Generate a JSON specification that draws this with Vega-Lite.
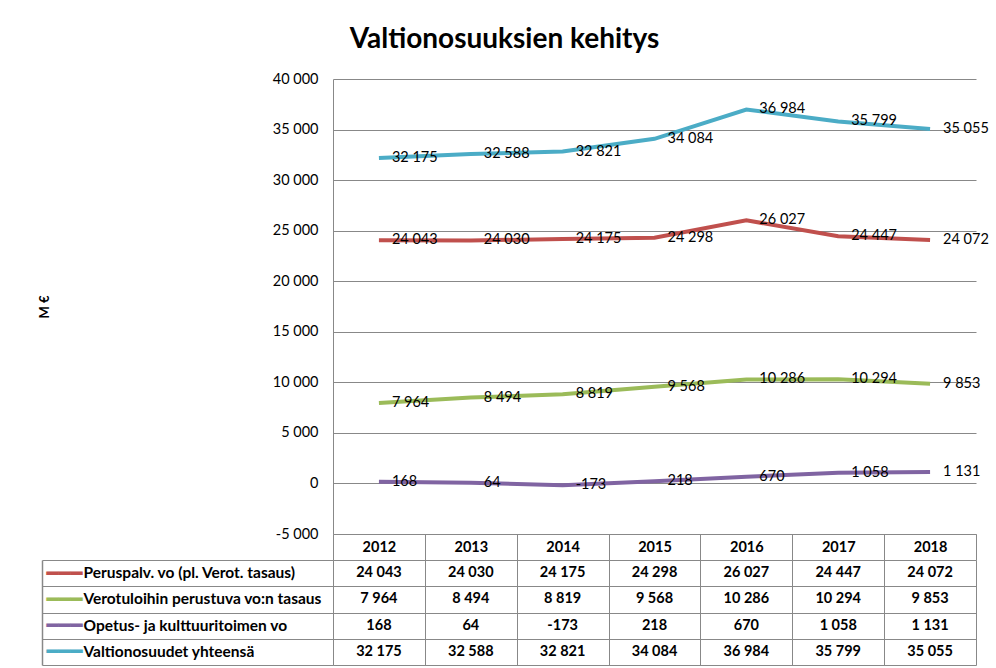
{
  "$schema": "https://vega.github.io/schema/vega-lite/v6.json",
  "padding": {"left": 38, "top": 26, "right": 5, "bottom": 3},
  "config": {
    "font": "Lato",
    "view": {"stroke": null},
    "locale": {"number": {"decimal": ",", "thousands": " ", "grouping": [3], "currency": ["", " €"], "minus": "-"}},
    "axis": {"labelFont": "Lato", "titleFont": "Lato"}
  },
  "title": {"text": "Valtionosuuksien kehitys", "fontSize": 28, "fontWeight": "bold", "font": "Lato", "color": "#000", "anchor": "middle", "frame": "group", "dx": -150, "offset": 17},
  "datasets": {
    "vo": [
      {"year": "2012", "series": "Peruspalv. vo (pl.  Verot. tasaus)", "value": 24043},
      {"year": "2013", "series": "Peruspalv. vo (pl.  Verot. tasaus)", "value": 24030},
      {"year": "2014", "series": "Peruspalv. vo (pl.  Verot. tasaus)", "value": 24175},
      {"year": "2015", "series": "Peruspalv. vo (pl.  Verot. tasaus)", "value": 24298},
      {"year": "2016", "series": "Peruspalv. vo (pl.  Verot. tasaus)", "value": 26027},
      {"year": "2017", "series": "Peruspalv. vo (pl.  Verot. tasaus)", "value": 24447},
      {"year": "2018", "series": "Peruspalv. vo (pl.  Verot. tasaus)", "value": 24072},
      {"year": "2012", "series": "Verotuloihin perustuva vo:n tasaus", "value": 7964},
      {"year": "2013", "series": "Verotuloihin perustuva vo:n tasaus", "value": 8494},
      {"year": "2014", "series": "Verotuloihin perustuva vo:n tasaus", "value": 8819},
      {"year": "2015", "series": "Verotuloihin perustuva vo:n tasaus", "value": 9568},
      {"year": "2016", "series": "Verotuloihin perustuva vo:n tasaus", "value": 10286},
      {"year": "2017", "series": "Verotuloihin perustuva vo:n tasaus", "value": 10294},
      {"year": "2018", "series": "Verotuloihin perustuva vo:n tasaus", "value": 9853},
      {"year": "2012", "series": "Opetus- ja kulttuuritoimen vo", "value": 168},
      {"year": "2013", "series": "Opetus- ja kulttuuritoimen vo", "value": 64},
      {"year": "2014", "series": "Opetus- ja kulttuuritoimen vo", "value": -173},
      {"year": "2015", "series": "Opetus- ja kulttuuritoimen vo", "value": 218},
      {"year": "2016", "series": "Opetus- ja kulttuuritoimen vo", "value": 670},
      {"year": "2017", "series": "Opetus- ja kulttuuritoimen vo", "value": 1058},
      {"year": "2018", "series": "Opetus- ja kulttuuritoimen vo", "value": 1131},
      {"year": "2012", "series": "Valtionosuudet yhteensä", "value": 32175},
      {"year": "2013", "series": "Valtionosuudet yhteensä", "value": 32588},
      {"year": "2014", "series": "Valtionosuudet yhteensä", "value": 32821},
      {"year": "2015", "series": "Valtionosuudet yhteensä", "value": 34084},
      {"year": "2016", "series": "Valtionosuudet yhteensä", "value": 36984},
      {"year": "2017", "series": "Valtionosuudet yhteensä", "value": 35799},
      {"year": "2018", "series": "Valtionosuudet yhteensä", "value": 35055}
    ]
  },
  "bounds": "flush",
  "spacing": 26,
  "vconcat": [
    {
      "width": 643,
      "height": 455,
      "data": {"name": "vo"},
      "encoding": {
        "x": {
          "field": "year", "type": "ordinal",
          "scale": {"type": "band", "paddingInner": 0, "paddingOuter": 0},
          "axis": {"orient": "bottom", "title": null, "domain": true, "domainColor": "#888", "ticks": true, "tickBand": "extent", "tickSize": 26, "tickColor": "#888", "grid": false, "labelAngle": 0, "labelFontSize": 14.5, "labelFontWeight": "bold", "labelColor": "#000", "labelBaseline": "middle", "labelPadding": -13}
        },
        "y": {
          "field": "value", "type": "quantitative",
          "scale": {"domain": [-5000, 40000], "nice": false, "zero": false},
          "axis": {"title": "M €", "titleFontSize": 13, "titleFontWeight": "bold", "titleColor": "#000", "titleX": -282, "values": [-5000, 0, 5000, 10000, 15000, 20000, 25000, 30000, 35000, 40000], "format": ",d", "grid": true, "gridColor": "#888", "gridOpacity": 1, "domain": true, "domainColor": "#888", "ticks": false, "labelPadding": 15, "labelFontSize": 14.5, "labelColor": "#000"}
        }
      },
      "layer": [
        {
          "mark": {"type": "line", "strokeWidth": 4, "interpolate": "linear"},
          "encoding": {
            "color": {"field": "series", "type": "nominal", "legend": null,
              "scale": {"domain": ["Peruspalv. vo (pl.  Verot. tasaus)", "Verotuloihin perustuva vo:n tasaus", "Opetus- ja kulttuuritoimen vo", "Valtionosuudet yhteensä"], "range": ["#C0504D", "#9BBB59", "#8064A2", "#4BACC6"]}}
          }
        },
        {
          "mark": {"type": "text", "align": "left", "baseline": "middle", "dx": 13, "fontSize": 14.5, "color": "#000"},
          "encoding": {"text": {"field": "value", "type": "quantitative", "format": ",d"}}
        }
      ]
    },
    {
      "width": 643,
      "height": 105,
      "data": {"name": "vo"},
      "layer": [
        {
          "mark": {"type": "text", "fontSize": 14.5, "fontWeight": "bold", "color": "#000"},
          "encoding": {
            "x": {"field": "year", "type": "ordinal",
              "scale": {"type": "band", "paddingInner": 0, "paddingOuter": 0},
              "axis": {"orient": "top", "grid": true, "tickBand": "extent", "gridColor": "#888", "gridOpacity": 1, "ticks": false, "labels": false, "domain": false, "title": null}},
            "y": {"field": "series", "type": "nominal",
              "sort": ["Peruspalv. vo (pl.  Verot. tasaus)", "Verotuloihin perustuva vo:n tasaus", "Opetus- ja kulttuuritoimen vo", "Valtionosuudet yhteensä"],
              "scale": {"type": "band", "paddingInner": 0, "paddingOuter": 0},
              "axis": {"orient": "left", "title": null, "domain": true, "domainColor": "#888", "ticks": true, "tickBand": "extent", "tickSize": 291, "tickColor": "#888", "grid": true, "gridColor": "#888", "gridOpacity": 1,
                "labelExpr": "datum.value ? '━━━' : ''", "labelFont": "DejaVu Sans", "labelFontSize": 20, "labelAlign": "left", "labelBaseline": "middle", "labelPadding": -4, "labelLimit": 0,
                "labelColor": {"condition": [
                  {"test": "datum.value === 'Peruspalv. vo (pl.  Verot. tasaus)'", "value": "#C0504D"},
                  {"test": "datum.value === 'Verotuloihin perustuva vo:n tasaus'", "value": "#9BBB59"},
                  {"test": "datum.value === 'Opetus- ja kulttuuritoimen vo'", "value": "#8064A2"}
                ], "value": "#4BACC6"}}},
            "text": {"field": "value", "type": "quantitative", "format": ",d"}
          }
        },
        {
          "mark": {"type": "text", "text": ""},
          "encoding": {
            "y": {"field": "series", "type": "nominal",
              "sort": ["Peruspalv. vo (pl.  Verot. tasaus)", "Verotuloihin perustuva vo:n tasaus", "Opetus- ja kulttuuritoimen vo", "Valtionosuudet yhteensä"],
              "scale": {"type": "band", "paddingInner": 0, "paddingOuter": 0},
              "axis": {"orient": "left", "offset": 291, "title": null, "domain": true, "domainColor": "#888", "domainWidth": 1.5, "ticks": false, "grid": false, "labelAlign": "left", "labelBaseline": "middle", "labelPadding": -41, "labelFontSize": 15.5, "labelFontWeight": "bold", "labelColor": "#000", "labelLimit": 0}}
          }
        }
      ],
      "resolve": {"scale": {"y": "independent"}, "axis": {"y": "independent"}}
    }
  ]
}
